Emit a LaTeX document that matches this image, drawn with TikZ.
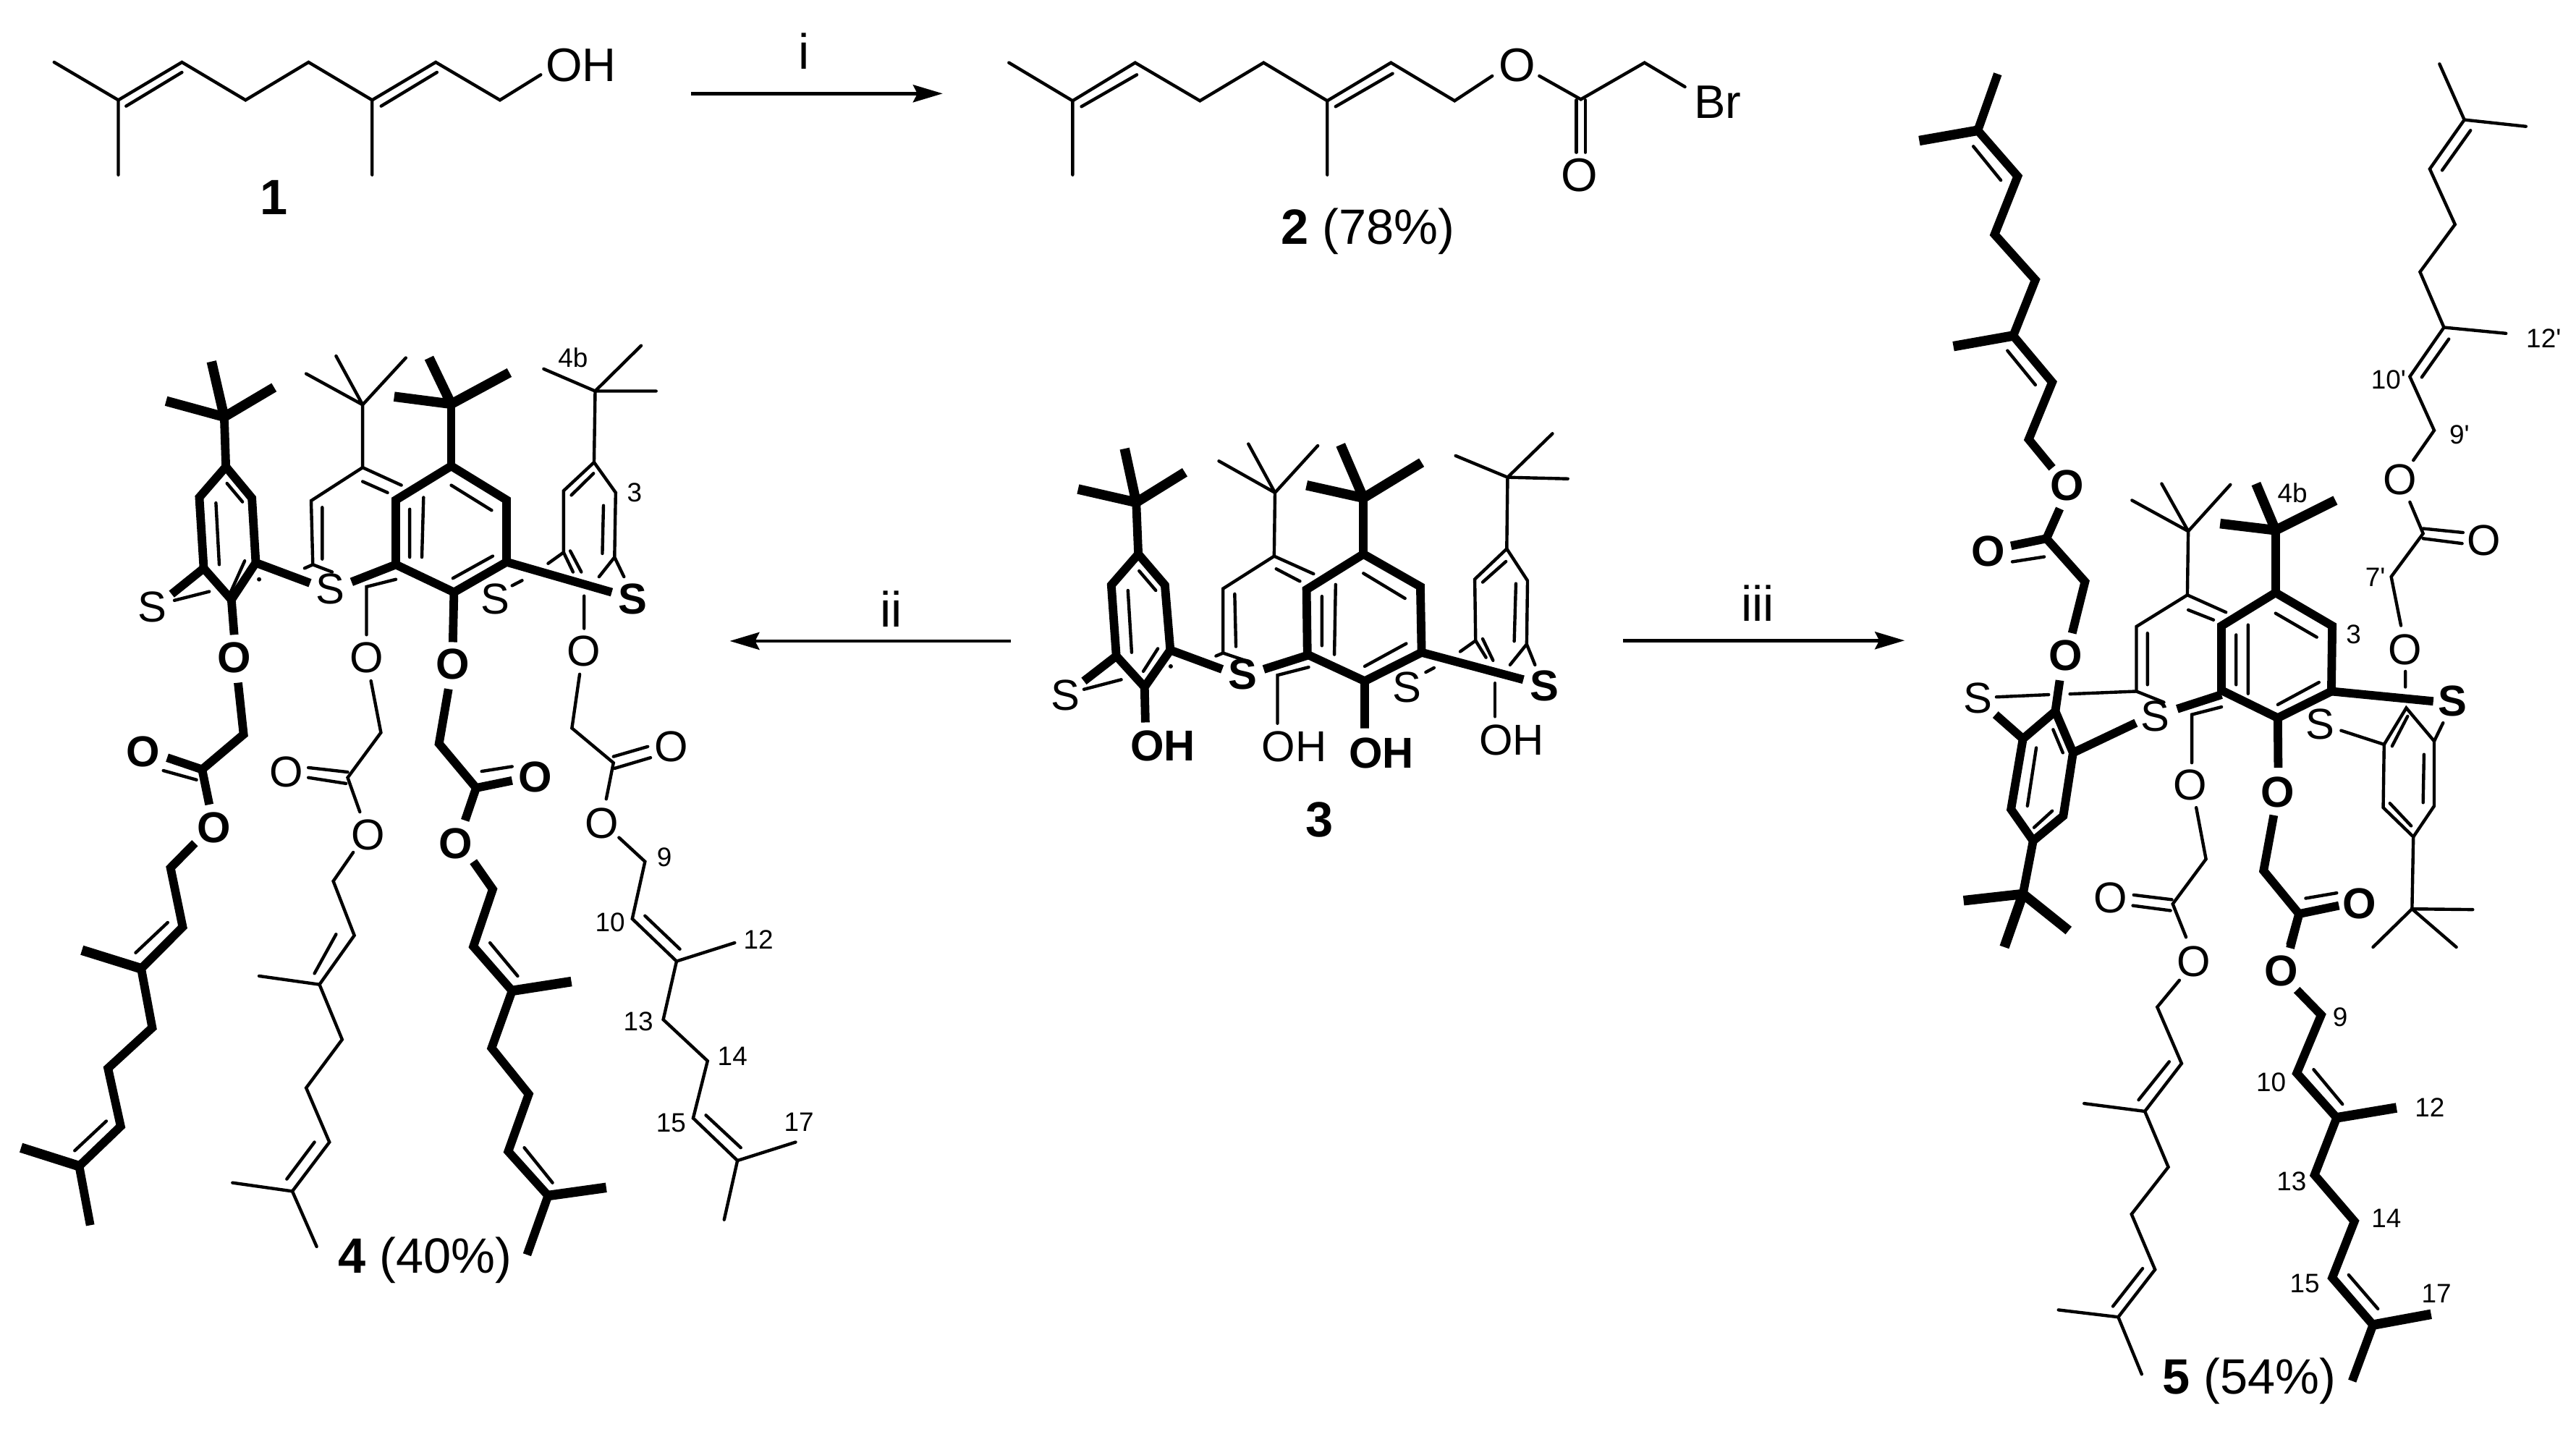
\documentclass[tikz,border=0pt]{standalone}
\usepackage{fontspec}
\setmainfont{Liberation Sans}
\newfontfamily\rawsans{Liberation Sans}
\usetikzlibrary{arrows.meta}
\tikzset{
  zframe/.style n args={4}{shift={(#1*0.01cm,-#2*0.01cm)},x=1cm/(100*#3),y=-1cm/(100*#4)},
  th/.style={line width=0.044cm,line cap=round,line join=miter},
  tk/.style={line width=0.118cm,line join=miter},
  tb/.style={line width=0.135cm,line join=miter},
  atom/.style={inner sep=0pt,font=\fontsize{17}{17}\selectfont},
  batom/.style={inner sep=0pt,font=\fontsize{17}{17}\selectfont\bfseries},
  topatom/.style={inner sep=0pt,font=\fontsize{18.5}{18.5}\selectfont},
  num/.style={inner sep=0pt,font=\rawsans\fontsize{10.5}{10.5}\selectfont},
  captxt/.style={inner sep=0pt,font=\fontsize{19.5}{19.5}\selectfont},
  bcaptxt/.style={inner sep=0pt,font=\fontsize{19.5}{19.5}\selectfont\bfseries},
  rarrow/.style={line width=0.047cm,-{Stealth[length=0.41cm,width=0.24cm,inset=0.06cm]}},
}
\begin{document}
\begin{tikzpicture}
\useasboundingbox[fill=white] (0,0) rectangle (35.6,-19.74);
% ---------- compound 1
\begin{scope}[zframe={40}{20}{1.206}{3}]
\draw[th] (42,198)--(149,355)--(255,198)--(361,355)--(466,198)--(572,355)--(678,198)--(785,355)--(853,250);
\draw[th] (149,355)--(149,665) (572,355)--(572,665) (162,380)--(255,240) (587,380)--(680,240);
\node[topatom] (oh1) at (920,210) {OH};
\node[bcaptxt] (lab1) at (408,760) {1};
\coordinate (ai) at (1104,328); \coordinate (bi) at (1523,328);
\draw[rarrow] (ai)--(bi);
\node[captxt] (li) at (1292,152) {i};
\end{scope}
% ---------- compound 2
\begin{scope}[zframe={1340}{20}{1.307}{3}]
\draw[th] (72,200)--(187,358)--(300,200)--(417,358)--(532,200)--(647,358)--(762,200)--(877,358)--(945,255);
\draw[th] (187,358)--(187,665) (647,358)--(647,665) (203,382)--(303,250) (662,382)--(765,245);
\draw[th] (1030,255)--(1105,352)--(1220,200)--(1293,300);
\draw[th] (1097,355)--(1097,572) (1113,355)--(1113,572);
\node[topatom] (o2a) at (990,210) {O};
\node[topatom] (o2b) at (1103,665) {O};
\node[topatom] (br2) at (1352,362) {Br};
\node[captxt] (lab2) at (720,900) {\textbf{2} (78\%)};
\end{scope}
% ---------- compound 4, upper part
\begin{scope}[zframe={0}{380}{1.307}{1.96}]
% back ring B
\draw[th] (655,352)--(607,220) (655,352)--(553,268) (655,352)--(733,225) (655,352)--(655,522);
\draw[th] (725,570)--(655,522)--(562,612)--(565,785)--(600,805) (550,795)--(565,785);
\draw[th] (655,560)--(700,590) (582,630)--(582,770);
\draw[th] (715,825)--(662,845)--(662,975) (670,1100)--(688,1240)--(628,1362)--(650,1455);
\draw[th] (628,1347)--(557,1335) (625,1378)--(557,1362);
\node[atom] (o4b1) at (662,1037) {O};
\node[atom] (o4b2) at (517,1347) {O};
\node[atom] (o4b3) at (665,1517) {O};
% back ring D
\draw[th] (1075,315)--(982,255) (1075,315)--(1158,192) (1075,315)--(1185,315) (1075,315)--(1073,508);
\draw[th] (990,782)--(1018,752)--(1018,585)--(1073,508)--(1112,590)--(1110,765)--(1082,818) (1110,765)--(1127,818);
\draw[th] (1072,538)--(1032,597) (1090,625)--(1088,755) (1018,752)--(1035,805) (1030,748)--(1050,805);
\draw[th] (1055,870)--(1055,958) (1047,1082)--(1033,1228)--(1108,1322)--(1095,1420);
\draw[th] (1108,1305)--(1170,1278) (1110,1337)--(1175,1308);
\node[atom] (o4d1) at (1055,1020) {O};
\node[atom] (o4d2) at (1213,1278) {O};
\node[atom] (o4d3) at (1087,1485) {O};
% ring A
\draw[tb] (405,385)--(382,235) (405,385)--(300,342) (405,385)--(495,305);
\draw[tk] (405,385)--(408,520);
\draw[tk] (408,520)--(360,603)--(368,795)--(418,880)--(462,780)--(455,605)--cycle;
\draw[th] (410,565)--(438,615) (390,618)--(396,785) (415,865)--(442,775);
\draw[tk] (368,795)--(310,865);
\draw[th] (315,882)--(378,858);
\draw[tk] (462,780)--(560,835);
\fill (468,825) circle (0.03cm);
\draw[tk] (418,880)--(423,975) (430,1105)--(440,1245)--(365,1340)--(378,1435) (365,1340)--(302,1308);
\draw[th] (355,1368)--(295,1343);
\node[atom] (s4a) at (275,900) {S};
\node[atom] (s4b) at (597,850) {S};
\node[batom] (o4a1) at (423,1037) {O};
\node[batom] (o4a2) at (258,1292) {O};
\node[batom] (o4a3) at (386,1498) {O};
% ring C
\draw[tb] (815,350)--(775,225) (815,350)--(712,330) (815,350)--(920,265);
\draw[tk] (815,350)--(815,518);
\draw[tk] (815,518)--(715,610)--(715,785)--(820,860)--(915,778)--(915,610)--cycle;
\draw[th] (815,570)--(888,638) (740,635)--(740,765) (765,603)--(762,765) (818,822)--(890,762);
\draw[tk] (635,832)--(715,785);
\draw[tk] (820,860)--(818,995) (810,1122)--(793,1270)--(860,1390)--(840,1478) (860,1390)--(925,1370);
\draw[th] (870,1345)--(925,1332);
\draw[tk] (915,778)--(1105,860);
\draw[th] (925,842)--(943,828);
\node[atom] (s4c) at (895,878) {S};
\node[batom] (s4d) at (1143,878) {S};
\node[batom] (o4c1) at (818,1055) {O};
\node[batom] (o4c2) at (967,1360) {O};
\node[batom] (o4c3) at (823,1540) {O};
\node[num] (n4b) at (1035,225) {4b};
\node[num] (n43) at (1146,590) {3};
\coordinate (aii) at (1826,992); \coordinate (bii) at (1318,992);
\draw[rarrow] (aii)--(bii);
\node[captxt] (lii) at (1610,905) {ii};
\end{scope}
% ---------- compound 4, chains
\begin{scope}[zframe={0}{1000}{1.307}{1.96}]
\draw[tk] (352,325)--(308,392)--(330,552)--(255,665)--(275,825)--(195,935)--(218,1092)--(143,1200)--(163,1360);
\draw[tb] (255,665)--(148,615) (143,1200)--(38,1150);
\draw[th] (303,540)--(245,622) (192,1078)--(135,1158);
\draw[th] (638,350)--(602,428)--(640,575)--(577,708)--(618,857)--(553,988)--(595,1135)--(528,1268)--(572,1418);
\draw[th] (607,572)--(568,678) (577,708)--(468,685) (568,1135)--(518,1235) (528,1268)--(420,1245);
\draw[tk] (855,375)--(890,450)--(855,605)--(925,725)--(888,880)--(955,1005)--(918,1160)--(990,1280)--(952,1440);
\draw[tb] (925,725)--(1032,700) (990,1280)--(1095,1258);
\draw[th] (885,595)--(935,685) (947,1150)--(998,1245);
\draw[th] (1118,310)--(1165,375)--(1142,530)--(1222,645)--(1198,803)--(1278,915)--(1252,1070)--(1332,1185)--(1308,1345);
\draw[th] (1165,522)--(1228,612) (1222,645)--(1327,595) (1275,1062)--(1338,1150) (1332,1185)--(1437,1135);
\node[num] (n49) at (1200,363) {9};
\node[num] (n410) at (1102,540) {10};
\node[num] (n412) at (1370,587) {12};
\node[num] (n413) at (1153,808) {13};
\node[num] (n414) at (1323,902) {14};
\node[num] (n415) at (1212,1082) {15};
\node[num] (n417) at (1443,1080) {17};
\node[captxt] (lab4) at (768,1455) {\textbf{4} (40\%)};
\end{scope}
% ---------- compound 3
\begin{scope}[zframe={1400}{560}{1.742}{2.45}]
% back B
\draw[th] (632,297)--(568,132) (632,297)--(497,190) (632,297)--(735,138) (632,297)--(630,512);
\draw[th] (725,572)--(630,512)--(507,622)--(507,840)--(560,865) (490,850)--(507,840);
\draw[th] (635,555)--(692,597) (535,640)--(538,818);
\draw[th] (713,888)--(638,915)--(638,1078);
\node[atom] (oh3b) at (678,1158) {OH};
% back D
\draw[th] (1192,245)--(1067,172) (1192,245)--(1300,97) (1192,245)--(1337,250) (1192,245)--(1190,487);
\draw[th] (1078,835)--(1115,798)--(1113,590)--(1190,487)--(1240,595)--(1238,810)--(1198,880) (1238,810)--(1258,880);
\draw[th] (1188,530)--(1132,600) (1212,605)--(1208,800) (1115,798)--(1140,855) (1132,792)--(1157,865);
\draw[th] (1162,942)--(1162,1055);
\node[atom] (oh3d) at (1202,1135) {OH};
% ring A
\draw[tb] (298,330)--(270,148) (298,330)--(158,285) (298,330)--(415,228);
\draw[tk] (298,330)--(303,505);
\draw[tk] (303,505)--(238,610)--(250,850)--(318,955)--(380,830)--(367,610)--cycle;
\draw[th] (305,562)--(345,628) (278,628)--(287,838) (315,902)--(350,825);
\draw[tk] (250,850)--(172,935);
\draw[th] (172,963)--(262,930);
\draw[tk] (318,955)--(320,1075) (380,830)--(505,895);
\fill (381,885) circle (0.03cm);
\node[atom] (s3a) at (128,982) {S};
\node[batom] (oh3a) at (362,1155) {OH};
\node[batom] (s3b) at (555,912) {S};
% ring C
\draw[tb] (845,315)--(790,135) (845,315)--(708,272) (845,315)--(985,195);
\draw[tk] (845,315)--(845,505);
\draw[tk] (845,505)--(708,625)--(710,845)--(848,935)--(985,838)--(982,615)--cycle;
\draw[th] (845,570)--(945,655) (745,648)--(745,815) (778,608)--(775,845) (848,885)--(948,808);
\draw[tk] (605,895)--(710,848) (848,935)--(848,1095) (985,838)--(1230,930);
\draw[th] (995,905)--(1015,890);
\node[atom] (s3c) at (950,955) {S};
\node[batom] (s3d) at (1280,950) {S};
\node[batom] (oh3c) at (888,1178) {OH};
\node[bcaptxt] (lab3) at (740,1405) {3};
\end{scope}
% ---------- compound 5, core
\begin{scope}[zframe={2600}{600}{1.633}{2.178}]
% back B
\draw[th] (695,293)--(635,150) (695,293)--(568,200) (695,293)--(790,153) (695,293)--(693,485);
\draw[th] (780,537)--(693,485)--(578,580)--(578,775)--(640,808);
\draw[th] (695,530)--(752,560) (603,600)--(603,755);
\draw[th] (262,792)--(380,785) (428,783)--(578,775);
\draw[th] (770,822)--(703,845)--(703,990) (713,1125)--(735,1280)--(660,1415)--(690,1515);
\draw[th] (572,1388)--(658,1402) (570,1420)--(655,1435);
\node[atom] (s5a) at (220,795) {S};
\node[atom] (o5b1) at (700,1058) {O};
\node[atom] (o5b2) at (520,1397) {O};
% ring D (back)
\draw[th] (1040,893)--(1137,935)--(1187,825)--(1250,925)--(1270,870);
\draw[th] (1137,935)--(1135,1125)--(1203,1213)--(1250,1120)--(1250,925);
\draw[th] (1155,940)--(1190,850) (1227,965)--(1225,1110) (1150,1112)--(1198,1180);
\draw[th] (1203,1213)--(1200,1430) (1200,1430)--(1337,1432) (1200,1430)--(1112,1545) (1200,1430)--(1300,1545);
% upper right substituent
\draw[th] (1185,715)--(1185,762) (1175,577)--(1153,430)--(1225,300)--(1195,205);
\draw[th] (1225,285)--(1315,297) (1225,315)--(1313,330);
\node[atom] (o5d1) at (1185,650) {O};
\node[atom] (o5d2) at (1362,320) {O};
\node[atom] (o5d3) at (1172,138) {O};
\node[atom] (s5c) at (993,875) {S};
% ring A
\draw[tk] (395,835)--(322,918)--(295,1130)--(345,1225)--(413,1150)--(435,960)--cycle;
\draw[th] (390,890)--(412,960) (352,945)--(332,1120) (347,1185)--(388,1135);
\draw[tk] (322,918)--(260,845) (435,960)--(577,870) (405,742)--(395,835);
\draw[tk] (345,1225)--(322,1385);
\draw[tb] (322,1385)--(188,1405) (322,1385)--(280,1545) (322,1385)--(425,1495);
\draw[tk] (405,225)--(375,315)--(462,445)--(433,600) (375,315)--(295,337);
\draw[th] (370,370)--(298,385);
\node[batom] (o5a1) at (418,668) {O};
\node[batom] (o5a2) at (243,353) {O};
\node[batom] (o5a3) at (422,155) {O};
\node[atom] (s5b) at (620,850) {S};
% ring C
\draw[tb] (892,290)--(848,150) (892,290)--(767,270) (892,290)--(1027,200);
\draw[tk] (892,290)--(892,478);
\draw[tk] (892,478)--(770,578)--(770,772)--(897,855)--(1018,775)--(1020,578)--cycle;
\draw[th] (892,540)--(985,612) (803,605)--(803,755) (830,575)--(830,782) (897,815)--(990,748);
\draw[tk] (670,828)--(770,785) (1018,775)--(1248,805);
\draw[tk] (897,855)--(898,1005) (888,1148)--(865,1315)--(945,1445)--(925,1540) (945,1445)--(1035,1420);
\draw[th] (960,1398)--(1030,1382);
\node[batom] (s5d) at (1292,805) {S};
\node[batom] (o5c1) at (897,1078) {O};
\node[batom] (o5c2) at (1082,1415) {O};
\node[num] (n54b) at (930,178) {4b};
\node[num] (n53) at (1068,603) {3};
\node[num] (n57) at (1117,432) {7'};
\coordinate (aiii) at (-580,622); \coordinate (biii) at (55,622);
\draw[rarrow] (aiii)--(biii);
\node[captxt] (liii) at (-277,510) {iii};
\end{scope}
% ---------- compound 5, upper chains
\begin{scope}[zframe={2600}{60}{1.633}{2.178}]
\draw[tk] (388,1278)--(335,1192)--(388,1020)--(300,880)--(350,712)--(258,575)--(310,400)--(220,262)--(265,92);
\draw[tb] (300,880)--(165,912) (220,262)--(88,293);
\draw[th] (350,1028)--(287,925) (272,412)--(210,310);
\draw[th] (1203,1255)--(1250,1165)--(1195,1003)--(1272,855)--(1218,688)--(1297,545)--(1240,378)--(1318,230)--(1262,62);
\draw[th] (1222,1005)--(1283,890) (1272,855)--(1412,873) (1268,382)--(1332,262) (1318,230)--(1457,250);
\node[num] (n512p) at (1497,888) {12'};
\node[num] (n510p) at (1147,1012) {10'};
\node[num] (n59p) at (1307,1178) {9'};
\end{scope}
% ---------- compound 5, lower chains
\begin{scope}[zframe={2600}{1200}{1.633}{2.026}]
\draw[th] (675,315)--(625,390)--(680,548)--(597,682)--(650,838)--(567,970)--(620,1125)--(537,1258)--(590,1418);
\draw[th] (652,543)--(583,650) (597,682)--(460,660) (592,1122)--(525,1228) (537,1258)--(402,1238);
\node[atom] (o5b3) at (707,262) {O};
\draw[tk] (945,130)--(925,225) (940,342)--(995,412)--(940,575)--(1030,700)--(980,860)--(1070,990)--(1020,1148)--(1112,1280)--(1065,1437);
\draw[tb] (1030,700)--(1165,672) (1112,1280)--(1243,1250);
\draw[th] (978,565)--(1043,662) (1057,1140)--(1123,1235);
\node[batom] (o5c3) at (905,288) {O};
\node[num] (n59) at (1038,418) {9};
\node[num] (n510) at (882,600) {10};
\node[num] (n512) at (1240,672) {12};
\node[num] (n513) at (928,878) {13};
\node[num] (n514) at (1142,982) {14};
\node[num] (n515) at (958,1165) {15};
\node[num] (n517) at (1255,1192) {17};
\node[captxt] (lab5) at (832,1438) {\textbf{5} (54\%)};
\end{scope}
\end{tikzpicture}
\end{document}
